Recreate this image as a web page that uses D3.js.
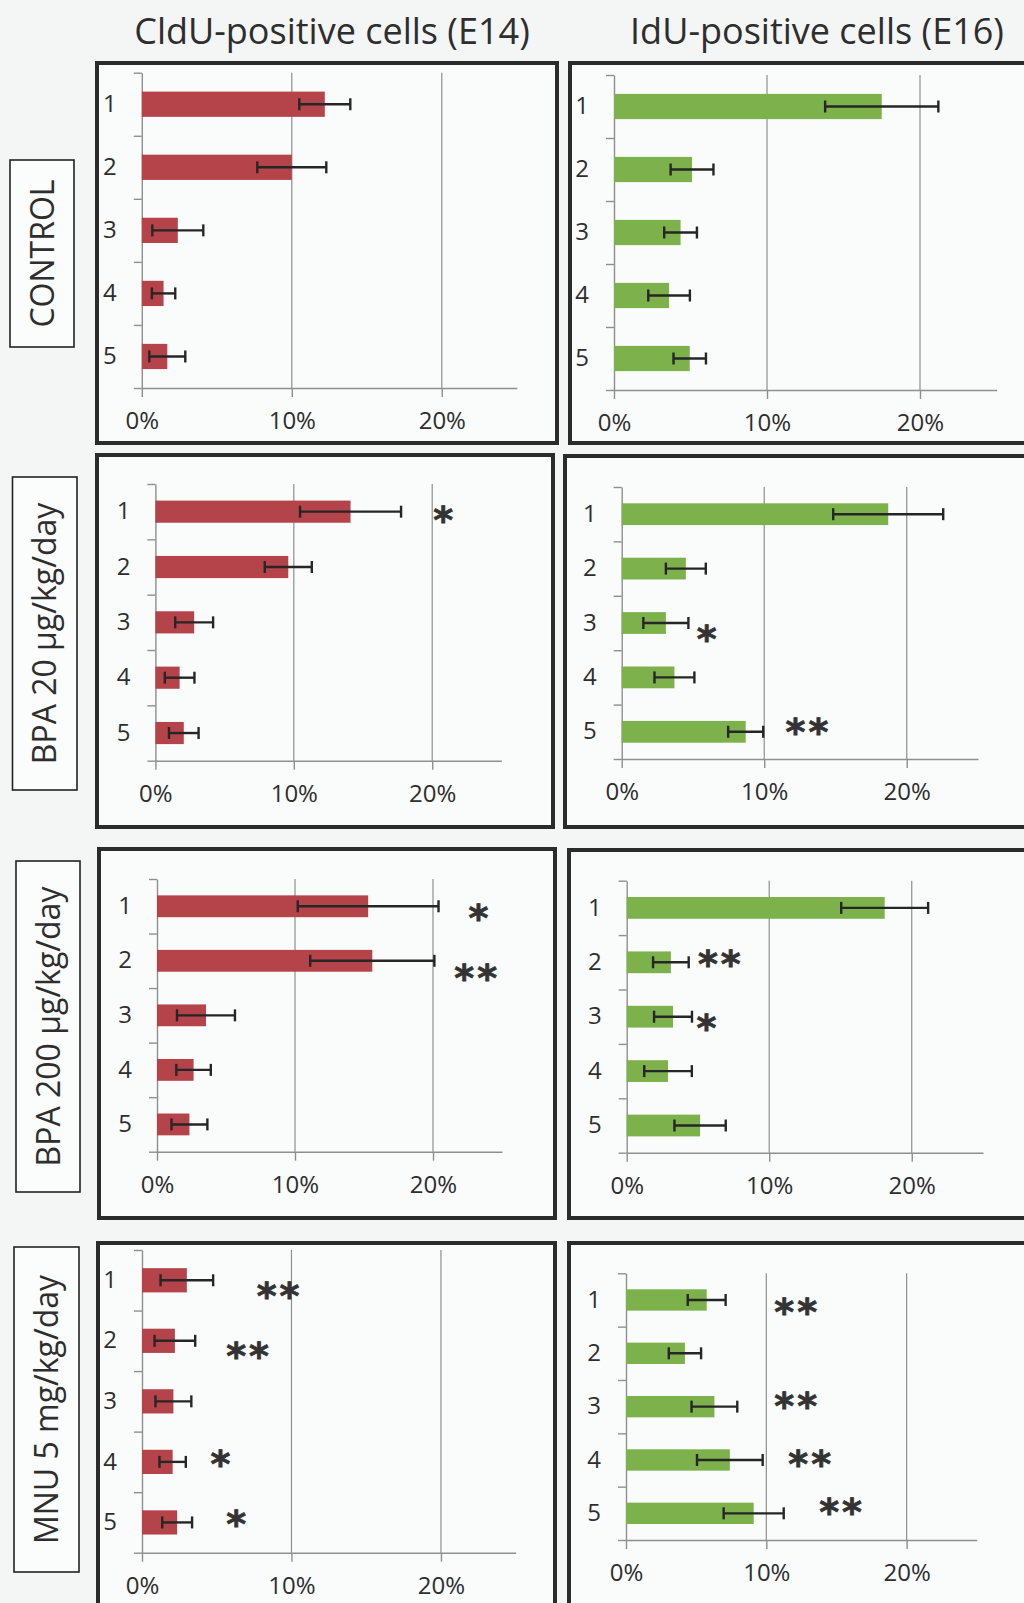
<html>
<head>
<style type="text/css">
	body { margin: 0; background: #f4f6f6; }
	.chart text { font-family: "Open Sans", sans-serif; fill: #2e2e2e; }
	.chart .grid line { stroke: #8f8f8f; stroke-width: 1.2; }
	.chart .axis path, .chart .axis line { stroke: #8f8f8f; stroke-width: 1.4; }
	.chart .err line { stroke: #262626; stroke-width: 2.4; }
	.chart text.star { font-family: "DejaVu Sans", sans-serif; font-weight: bold; fill: #333; stroke: #333; stroke-width: 0.8; }
</style>
</head>
<body>
<svg class="chart" width="1024" height="1603"></svg>

<script src="https://d3js.org/d3.v7.min.js"></script>
<script>
// ---------- data ----------
const categories = ["1", "2", "3", "4", "5"];
const columnTitles = ["CldU-positive cells (E14)", "IdU-positive cells (E16)"];
const groupLabels = ["CONTROL", "BPA 20 μg/kg/day", "BPA 200 μg/kg/day", "MNU 5 mg/kg/day"];
const xTicks = [0, 10, 20];
const xMax = 25;

// % positive cells, mean and error
const clduControl    = [12.2, 10.0, 2.4, 1.45, 1.7];
const clduControlErr = [1.7, 2.3, 1.7, 0.78, 1.2];
const iduControl     = [17.5, 5.1, 4.35, 3.6, 4.95];
const iduControlErr  = [3.7, 1.4, 1.07, 1.36, 1.06];

const clduBpa20      = [14.1, 9.6, 2.8, 1.75, 2.05];
const clduBpa20Err   = [3.65, 1.7, 1.37, 1.07, 1.07];
const iduBpa20       = [18.7, 4.5, 3.1, 3.7, 8.7];
const iduBpa20Err    = [3.86, 1.4, 1.58, 1.4, 1.23];

const clduBpa200     = [15.3, 15.6, 3.55, 2.65, 2.35];
const clduBpa200Err  = [5.1, 4.5, 2.1, 1.25, 1.3];
const iduBpa200      = [18.1, 3.1, 3.25, 2.9, 5.15];
const iduBpa200Err   = [3.05, 1.25, 1.33, 1.67, 1.8];

const clduMnu        = [3.0, 2.2, 2.1, 2.05, 2.35];
const clduMnuErr     = [1.76, 1.36, 1.2, 0.88, 1.0];
const iduMnu         = [5.75, 4.2, 6.3, 7.4, 9.1];
const iduMnuErr      = [1.35, 1.15, 1.63, 2.34, 2.14];

// significance marks
const clduControlSig = ["", "", "", "", ""];
const iduControlSig  = ["", "", "", "", ""];
const clduBpa20Sig   = ["*", "", "", "", ""];
const iduBpa20Sig    = ["", "", "*", "", "**"];
const clduBpa200Sig  = ["*", "**", "", "", ""];
const iduBpa200Sig   = ["", "**", "*", "", ""];
const clduMnuSig     = ["**", "**", "", "*", "*"];
const iduMnuSig      = ["**", "", "**", "**", "**"];

// ---------- layout ----------
// frame [x0,y0,x1,y1], x axis pixel range for 0..25%, y axis top/bottom
const layout = [
	{frame: [97, 63, 557, 443],    x: [141.8, 516.8], y: [72.7, 388]},
	{frame: [570, 63, 1030, 443],  x: [614, 996.5],   y: [75, 390]},
	{frame: [97, 455, 553, 827],   x: [155.4, 501.4], y: [484, 760.7]},
	{frame: [565, 456, 1030, 827], x: [621.7, 978],   y: [487, 759]},
	{frame: [99, 849, 555, 1218],  x: [157, 502],     y: [879, 1151.7]},
	{frame: [569, 850, 1030, 1218],x: [626.7, 983],   y: [880.7, 1152.7]},
	{frame: [98, 1243, 555, 1620], x: [142, 515.7],   y: [1250, 1552.7]},
	{frame: [569, 1243, 1030, 1620],x: [626, 976.8],  y: [1273.3, 1540]}
];
// where each mark sits (x in % units, small vertical nudge in px)
const sigX  = [
	[], [],
	[20.9], [null, null, 6.06, null, 13.1],
	[23.4, 23.2], [null, 6.6, 5.7],
	[9.2, 7.16, null, 5.35, 6.4], [12.2, null, 12.2, 13.2, 15.4]
];
const sigDy = [
	[], [],
	[2], [0, 0, 10, 0, -6],
	[6, 11], [0, -4, 5],
	[10, 9, 0, -4, -4], [6, 0, -7, -2, -7]
];
const labelBoxes = [[10, 160, 74, 347], [12.5, 477, 77, 790], [16, 861, 80, 1192], [14, 1247, 79, 1572]];

const panels = [
	{vals: clduControl, err: clduControlErr, sig: clduControlSig, color: "#b5434a"},
	{vals: iduControl,  err: iduControlErr,  sig: iduControlSig,  color: "#7cb14c"},
	{vals: clduBpa20,   err: clduBpa20Err,   sig: clduBpa20Sig,   color: "#b5434a"},
	{vals: iduBpa20,    err: iduBpa20Err,    sig: iduBpa20Sig,    color: "#7cb14c"},
	{vals: clduBpa200,  err: clduBpa200Err,  sig: clduBpa200Sig,  color: "#b5434a"},
	{vals: iduBpa200,   err: iduBpa200Err,   sig: iduBpa200Sig,   color: "#7cb14c"},
	{vals: clduMnu,     err: clduMnuErr,     sig: clduMnuSig,     color: "#b5434a"},
	{vals: iduMnu,      err: iduMnuErr,      sig: iduMnuSig,      color: "#7cb14c"}
];

var svg = d3.select("svg");

svg.append("rect").attr("width", 1024).attr("height", 1603).attr("fill", "#f4f6f6");

//column titles
svg.selectAll("text.title")
	.data(columnTitles)
	.join("text")
	.attr("class", "title")
	.attr("x", function(d, i) { return i == 0 ? 332 : 817; })
	.attr("y", 44)
	.attr("text-anchor", "middle")
	.style("font-size", "36px")
	.text(function(d) { return d; });

//row labels in boxes
labelBoxes.forEach(function(b, i) {
	svg.append("rect")
		.attr("x", b[0]).attr("y", b[1])
		.attr("width", b[2] - b[0]).attr("height", b[3] - b[1])
		.attr("fill", "#fbfcfc")
		.attr("stroke", "#222").attr("stroke-width", 1.6);
	var cx = (b[0] + b[2]) / 2, cy = (b[1] + b[3]) / 2;
	svg.append("text")
		.attr("transform", "translate(" + cx + "," + cy + ") rotate(-90)")
		.attr("text-anchor", "middle")
		.attr("dy", "0.36em")
		.style("font-size", "32px")
		.text(groupLabels[i]);
});

function drawPanel(p, lay, k) {
	var g = svg.append("g");

	g.append("rect")
		.attr("x", lay.frame[0]).attr("y", lay.frame[1])
		.attr("width", lay.frame[2] - lay.frame[0])
		.attr("height", lay.frame[3] - lay.frame[1])
		.attr("fill", "#fafbfb")
		.attr("stroke", "#2b2b2b")
		.attr("stroke-width", 4);

	var x = d3.scaleLinear().domain([0, xMax]).range(lay.x);
	var y = d3.scaleBand().domain(categories).range(lay.y).paddingInner(0.6).paddingOuter(0.3);
	var yEdge = d3.scaleLinear().domain([0, categories.length]).range(lay.y);

	//gridlines
	g.append("g").attr("class", "grid")
		.selectAll("line")
		.data(xTicks.slice(1))
		.join("line")
		.attr("x1", function(d) { return x(d); })
		.attr("x2", function(d) { return x(d); })
		.attr("y1", lay.y[0])
		.attr("y2", lay.y[1]);

	//x axis
	var xa = g.append("g")
		.attr("class", "axis")
		.attr("transform", "translate(0," + lay.y[1] + ")")
		.call(d3.axisBottom(x)
			.tickValues(xTicks)
			.tickSize(9)
			.tickSizeOuter(0)
			.tickPadding(15)
			.tickFormat(function(d) { return d + "%"; }));
	xa.attr("font-size", 24).attr("font-family", null);

	//y axis with category boundaries
	g.append("g")
		.attr("class", "axis")
		.attr("transform", "translate(" + lay.x[0] + ",0)")
		.call(d3.axisLeft(yEdge).ticks(5).tickSize(8).tickSizeOuter(0).tickFormat(""));

	var ya = g.append("g")
		.attr("transform", "translate(" + lay.x[0] + ",0)")
		.call(d3.axisLeft(y).tickSize(0).tickPadding(25));
	ya.select(".domain").remove();
	ya.attr("font-size", 24).attr("font-family", null);

	var rows = categories.map(function(c, i) {
		return {cat: c, v: p.vals[i], e: p.err[i], s: p.sig[i], sx: sigX[k][i], dy: sigDy[k][i] || 0};
	});

	//bars
	g.append("g").selectAll("rect")
		.data(rows)
		.join("rect")
		.attr("x", x(0))
		.attr("y", function(d) { return y(d.cat); })
		.attr("width", function(d) { return x(d.v) - x(0); })
		.attr("height", y.bandwidth())
		.attr("fill", p.color);

	//error bars
	var eg = g.append("g").attr("class", "err");
	var cy = function(d) { return y(d.cat) + y.bandwidth() / 2; };
	eg.selectAll("line.bar")
		.data(rows).join("line").attr("class", "bar")
		.attr("x1", function(d) { return x(d.v - d.e); })
		.attr("x2", function(d) { return x(d.v + d.e); })
		.attr("y1", cy).attr("y2", cy);
	eg.selectAll("line.lo")
		.data(rows).join("line").attr("class", "lo")
		.attr("x1", function(d) { return x(d.v - d.e); })
		.attr("x2", function(d) { return x(d.v - d.e); })
		.attr("y1", function(d) { return cy(d) - 6; })
		.attr("y2", function(d) { return cy(d) + 6; });
	eg.selectAll("line.hi")
		.data(rows).join("line").attr("class", "hi")
		.attr("x1", function(d) { return x(d.v + d.e); })
		.attr("x2", function(d) { return x(d.v + d.e); })
		.attr("y1", function(d) { return cy(d) - 6; })
		.attr("y2", function(d) { return cy(d) + 6; });

	//significance stars
	g.append("g").selectAll("text")
		.data(rows.filter(function(d) { return d.s; }))
		.join("text")
		.attr("class", "star")
		.attr("x", function(d) { return x(d.sx); })
		.attr("y", function(d) { return cy(d) + d.dy + 19; })
		.attr("text-anchor", "middle")
		.style("font-size", "38px")
		.style("letter-spacing", "3px")
		.text(function(d) { return d.s; });
}

panels.forEach(function(p, k) { drawPanel(p, layout[k], k); });
</script>
</body>
</html>
